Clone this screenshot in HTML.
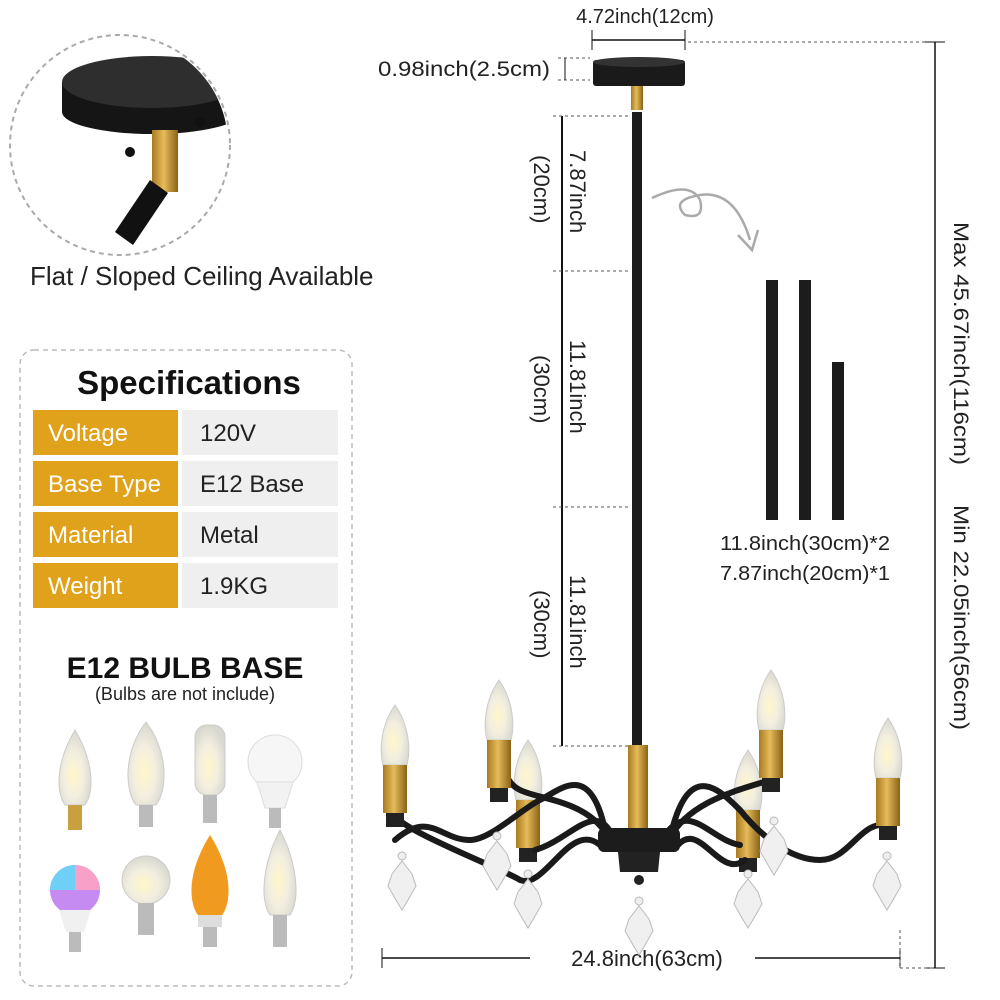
<!DOCTYPE html>
<html><head><meta charset="utf-8"><style>
html,body{margin:0;padding:0;background:#fff}
svg{display:block}
text{font-family:"Liberation Sans",Arial,sans-serif}
</style></head><body>
<svg width="1000" height="1000" viewBox="0 0 1000 1000" xmlns="http://www.w3.org/2000/svg">
<defs>
<linearGradient id="gold" x1="0" x2="1"><stop offset="0" stop-color="#a87a20"/><stop offset=".45" stop-color="#e6bb5a"/><stop offset="1" stop-color="#8a6215"/></linearGradient>
<radialGradient id="bulb" cx=".45" cy=".6" r=".6"><stop offset="0" stop-color="#fff6c8"/><stop offset=".5" stop-color="#f3efe0"/><stop offset="1" stop-color="#d8d8d0"/></radialGradient>
<g id="crys"><circle cx="0" cy="-14" r="4" fill="#eee" stroke="#bbb"/><path d="M0 -9 L10 4 L14 16 L6 30 L0 40 L-6 30 L-14 16 L-10 4 Z" fill="#f0f0f0" stroke="#bbb"/></g>
<g id="cand"><path d="M0 -60 C-14 -40 -16 -15 -12 0 L12 0 C16 -15 14 -40 0 -60Z" fill="url(#bulb)" stroke="#ccc"/><rect x="-12" y="0" width="24" height="48" fill="url(#gold)"/><rect x="-9" y="48" width="18" height="14" fill="#222"/></g>
</defs>

<!-- top-left circle -->
<circle cx="120" cy="145" r="110" fill="#fff" stroke="#aaa" stroke-width="2" stroke-dasharray="5 4"/>
<clipPath id="cc"><circle cx="120" cy="145" r="108"/></clipPath>
<g clip-path="url(#cc)">
<path d="M62 82 L62 112 A90 22 0 0 0 242 112 L242 82 Z" fill="#151515"/>
<ellipse cx="152" cy="82" rx="90" ry="26" fill="#2e2e2e"/>
<rect x="152" y="130" width="26" height="62" fill="url(#gold)"/>
<path d="M115 232 L150 180 L168 193 L133 245Z" fill="#111"/>
<circle cx="200" cy="122" r="5" fill="#111"/><circle cx="130" cy="152" r="5" fill="#111"/>
</g>
<text x="30" y="285" font-size="26" fill="#222">Flat / Sloped Ceiling Available</text>

<!-- spec box -->
<rect x="20" y="350" width="332" height="636" rx="14" fill="#fff" stroke="#bbb" stroke-width="1.5" stroke-dasharray="5 4"/>
<text x="189" y="394" font-size="33" font-weight="bold" text-anchor="middle" fill="#111">Specifications</text>
<g font-size="24">
<rect x="33" y="410" width="145" height="45" fill="#e0a11b"/><rect x="182" y="410" width="156" height="45" fill="#efefef"/>
<text x="48" y="441" fill="#fff">Voltage</text><text x="200" y="441" fill="#222">120V</text>
<rect x="33" y="461" width="145" height="45" fill="#e0a11b"/><rect x="182" y="461" width="156" height="45" fill="#efefef"/>
<text x="48" y="492" fill="#fff">Base Type</text><text x="200" y="492" fill="#222">E12 Base</text>
<rect x="33" y="512" width="145" height="45" fill="#e0a11b"/><rect x="182" y="512" width="156" height="45" fill="#efefef"/>
<text x="48" y="543" fill="#fff">Material</text><text x="200" y="543" fill="#222">Metal</text>
<rect x="33" y="563" width="145" height="45" fill="#e0a11b"/><rect x="182" y="563" width="156" height="45" fill="#efefef"/>
<text x="48" y="594" fill="#fff">Weight</text><text x="200" y="594" fill="#222">1.9KG</text>
</g>
<text x="185" y="678" font-size="30" font-weight="bold" text-anchor="middle" fill="#111">E12 BULB BASE</text>
<text x="185" y="700" font-size="18" text-anchor="middle" fill="#222">(Bulbs are not include)</text>
<!-- bulbs -->
<g>
<g transform="translate(75,800)"><path d="M0 -70 C-18 -40 -20 -10 -10 5 L10 5 C20 -10 18 -40 0 -70Z" fill="url(#bulb)" stroke="#ccc"/><rect x="-7" y="5" width="14" height="25" fill="#c9a040"/></g>
<g transform="translate(146,800)"><path d="M0 -78 C-22 -50 -22 -10 -10 5 L10 5 C22 -10 22 -50 0 -78Z" fill="url(#bulb)" stroke="#ccc"/><rect x="-7" y="5" width="14" height="22" fill="#bbb"/></g>
<g transform="translate(210,800)"><rect x="-15" y="-75" width="30" height="70" rx="12" fill="url(#bulb)" stroke="#ccc"/><rect x="-7" y="-5" width="14" height="28" fill="#bbb"/></g>
<g transform="translate(275,790)"><circle cx="0" cy="-28" r="27" fill="#f6f6f6" stroke="#ddd"/><path d="M-18 -8 L18 -8 L10 18 L-10 18Z" fill="#f2f2f2" stroke="#ddd"/><rect x="-6" y="18" width="12" height="20" fill="#bbb"/></g>
<g transform="translate(75,920)"><circle cx="0" cy="-30" r="25" fill="#c58bf0"/><path d="M-25 -30 A25 25 0 0 1 0 -55 L0 -30Z" fill="#6fd0f5"/><path d="M0 -55 A25 25 0 0 1 25 -30 L0 -30Z" fill="#f7a0c8"/><path d="M-16 -10 L16 -10 L9 12 L-9 12Z" fill="#f0f0f0"/><rect x="-6" y="12" width="12" height="20" fill="#bbb"/></g>
<g transform="translate(146,915)"><circle cx="0" cy="-35" r="24" fill="url(#bulb)" stroke="#ccc"/><rect x="-8" y="-12" width="16" height="32" fill="#bbb"/></g>
<g transform="translate(210,915)"><path d="M0 -80 C-25 -40 -20 -10 -12 0 L12 0 C20 -10 25 -40 0 -80Z" fill="#f09a20"/><rect x="-12" y="0" width="24" height="12" fill="#ddd"/><rect x="-7" y="12" width="14" height="20" fill="#bbb"/></g>
<g transform="translate(280,915)"><path d="M0 -85 C-18 -50 -20 -15 -10 0 L10 0 C20 -15 18 -50 0 -85Z" fill="url(#bulb)" stroke="#ccc"/><rect x="-7" y="0" width="14" height="32" fill="#bbb"/></g>
</g>

<!-- top dims -->
<text x="645" y="23" font-size="20" text-anchor="middle" fill="#222">4.72inch(12cm)</text>
<line x1="592" y1="40" x2="685" y2="40" stroke="#111" stroke-width="1.5"/>
<line x1="592" y1="30" x2="592" y2="50" stroke="#111"/><line x1="685" y1="30" x2="685" y2="50" stroke="#111"/>
<line x1="688" y1="42" x2="935" y2="42" stroke="#555" stroke-dasharray="3 3"/>
<text x="378" y="76" font-size="21" fill="#222" textLength="172" lengthAdjust="spacingAndGlyphs">0.98inch(2.5cm)</text>
<line x1="558" y1="58" x2="590" y2="58" stroke="#555" stroke-dasharray="3 3"/><line x1="558" y1="80" x2="590" y2="80" stroke="#555" stroke-dasharray="3 3"/>
<line x1="565" y1="58" x2="565" y2="80" stroke="#111"/>
<!-- canopy -->
<rect x="593" y="60" width="92" height="26" rx="3" fill="#1a1a1a"/>
<ellipse cx="639" cy="62" rx="46" ry="5" fill="#333"/>
<rect x="631" y="86" width="12" height="24" fill="url(#gold)"/>
<!-- rod -->
<rect x="632" y="112" width="10" height="635" fill="#1c1c1c"/>
<!-- left rod dims -->
<line x1="562" y1="116" x2="562" y2="746" stroke="#111" stroke-width="2"/>
<line x1="553" y1="116" x2="630" y2="116" stroke="#555" stroke-dasharray="3 3"/>
<line x1="553" y1="271" x2="630" y2="271" stroke="#555" stroke-dasharray="3 3"/>
<line x1="553" y1="507" x2="630" y2="507" stroke="#555" stroke-dasharray="3 3"/>
<line x1="553" y1="746" x2="630" y2="746" stroke="#555" stroke-dasharray="3 3"/>
<g font-size="22" fill="#222">
<text transform="translate(570,150) rotate(90)">7.87inch</text>
<text transform="translate(534,155) rotate(90)">(20cm)</text>
<text transform="translate(570,340) rotate(90)">11.81inch</text>
<text transform="translate(534,355) rotate(90)">(30cm)</text>
<text transform="translate(570,575) rotate(90)">11.81inch</text>
<text transform="translate(534,590) rotate(90)">(30cm)</text>
</g>
<!-- squiggle arrow -->
<path d="M652 198 Q690 180 700 200 Q705 220 685 215 Q670 200 700 195 Q735 190 750 240" fill="none" stroke="#aaa" stroke-width="2.5"/>
<path d="M738 235 L752 250 L758 230" fill="none" stroke="#aaa" stroke-width="2.5"/>
<!-- spare rods -->
<rect x="766" y="280" width="12" height="240" fill="#1c1c1c"/>
<rect x="799" y="280" width="12" height="240" fill="#1c1c1c"/>
<rect x="832" y="362" width="12" height="158" fill="#1c1c1c"/>
<text x="805" y="550" font-size="20" text-anchor="middle" fill="#222" textLength="170" lengthAdjust="spacingAndGlyphs">11.8inch(30cm)*2</text>
<text x="805" y="580" font-size="20" text-anchor="middle" fill="#222" textLength="170" lengthAdjust="spacingAndGlyphs">7.87inch(20cm)*1</text>
<!-- right dims -->
<line x1="935" y1="42" x2="935" y2="968" stroke="#111" stroke-width="1.5"/>
<line x1="925" y1="42" x2="945" y2="42" stroke="#111"/><line x1="925" y1="968" x2="945" y2="968" stroke="#111"/>
<line x1="900" y1="968" x2="935" y2="968" stroke="#555" stroke-dasharray="3 3"/>
<text transform="translate(954,222) rotate(90)" font-size="21" fill="#222" textLength="243" lengthAdjust="spacingAndGlyphs">Max 45.67inch(116cm)</text>
<text transform="translate(954,505) rotate(90)" font-size="21" fill="#222" textLength="225" lengthAdjust="spacingAndGlyphs">Min 22.05inch(56cm)</text>
<!-- bottom dims -->
<line x1="382" y1="958" x2="900" y2="958" stroke="#111" stroke-width="1.5"/>
<line x1="382" y1="948" x2="382" y2="968" stroke="#111"/><line x1="900" y1="948" x2="900" y2="968" stroke="#111"/>
<line x1="900" y1="930" x2="900" y2="968" stroke="#555" stroke-dasharray="3 3"/>
<rect x="530" y="945" width="225" height="26" fill="#fff"/>
<text x="647" y="966" font-size="22" text-anchor="middle" fill="#222">24.8inch(63cm)</text>

<!-- chandelier -->
<g transform="translate(528,800)"><use href="#cand"/></g>
<g transform="translate(748,810)"><use href="#cand"/></g>
<g fill="none" stroke="#1a1a1a" stroke-width="6" stroke-linecap="round">
<path d="M605 830 C590 760 560 790 540 800 C520 810 490 840 470 840 C440 840 430 810 395 840"/>
<path d="M672 830 C690 760 720 790 740 810 C760 835 790 860 820 860 C850 860 860 820 888 825"/>
<path d="M610 840 C590 800 540 800 520 790 C500 780 510 760 500 790"/>
<path d="M668 840 C690 800 740 790 770 780"/>
<path d="M600 845 C570 820 545 890 520 880 C505 870 400 830 395 815"/>
<path d="M678 845 C700 820 720 880 745 860"/>
<path d="M612 835 C595 800 570 840 535 850"/>
<path d="M665 835 C690 800 710 840 740 845"/>
</g>
<g transform="translate(395,765)"><use href="#cand"/></g>
<g transform="translate(499,740)"><use href="#cand"/></g>
<g transform="translate(771,730)"><use href="#cand"/></g>
<g transform="translate(888,778)"><use href="#cand"/></g>
<rect x="628" y="745" width="20" height="85" fill="url(#gold)"/>
<ellipse cx="639" cy="840" rx="41" ry="12" fill="#1a1a1a"/>
<rect x="598" y="828" width="82" height="24" rx="6" fill="#1c1c1c"/>
<path d="M618 852 L660 852 L658 872 L620 872Z" fill="#222"/>
<circle cx="639" cy="880" r="5" fill="#222"/>
<g transform="translate(639,915)"><use href="#crys"/></g>
<g transform="translate(402,870)"><use href="#crys"/></g>
<g transform="translate(497,850)"><use href="#crys"/></g>
<g transform="translate(528,888)"><use href="#crys"/></g>
<g transform="translate(748,888)"><use href="#crys"/></g>
<g transform="translate(774,835)"><use href="#crys"/></g>
<g transform="translate(887,870)"><use href="#crys"/></g>
</svg>
</body></html>
